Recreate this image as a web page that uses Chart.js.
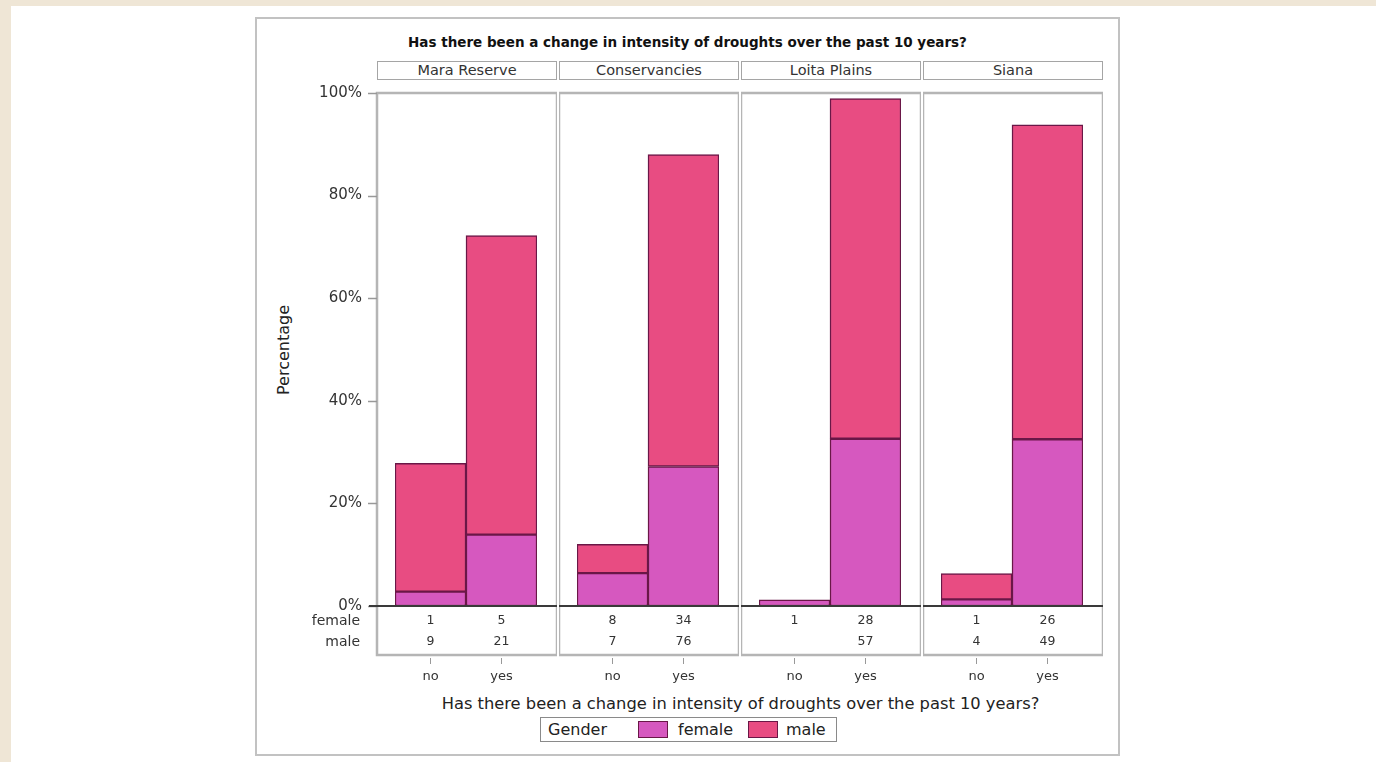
<!DOCTYPE html>
<html><head><meta charset="utf-8">
<script src="https://cdn.jsdelivr.net/npm/chart.js@4.4.0/dist/chart.umd.min.js"></script>
<style>
html,body{margin:0;padding:0;}
body{width:1376px;height:762px;background:#efe6d6;position:relative;overflow:hidden;font-family:"DejaVu Sans",sans-serif;color:#222;}
#page{position:absolute;left:11px;top:6px;right:0;bottom:0;background:#fff;}
#frame{position:absolute;left:255px;top:17px;width:865px;height:739px;border:2px solid #c2c2c2;box-sizing:border-box;}
#title{position:absolute;left:255px;width:865px;top:34px;text-align:center;font-weight:bold;font-size:13.5px;line-height:16px;color:#111;}
.strip{position:absolute;top:61px;width:180px;height:19px;border:1.5px solid #a5a5a5;box-sizing:border-box;text-align:center;font-size:14.5px;line-height:16px;color:#333;}
#ytitle{position:absolute;left:224px;top:340px;width:120px;height:20px;line-height:20px;text-align:center;font-size:16px;color:#222;transform:rotate(-90deg);}
#xtitle{position:absolute;left:377px;width:727px;top:694px;height:20px;line-height:20px;text-align:center;font-size:16.3px;color:#222;}
#legend{position:absolute;left:540px;top:717px;width:297px;height:25px;border:1px solid #8a8a8a;box-sizing:border-box;font-size:16px;color:#222;}
#legend span{position:absolute;top:0;line-height:23px;}
#legend i{position:absolute;top:3px;width:30px;height:17px;box-sizing:border-box;border:1px solid #6a1747;}
canvas{position:absolute;}
</style></head>
<body>
<div id="page"></div>
<div id="frame"></div>
<div id="title">Has there been a change in intensity of droughts over the past 10 years?</div>
<div id="ytitle">Percentage</div>
<div id="xtitle">Has there been a change in intensity of droughts over the past 10 years?</div>
<div id="legend"><span style="left:7px">Gender</span><i id="swF" style="left:97px"></i><span style="left:137px">female</span><i id="swM" style="left:207px"></i><span style="left:245px">male</span></div>
<script>
const panels = ['Mara Reserve', 'Conservancies', 'Loita Plains', 'Siana'];
const answers = ['no', 'yes'];
const femalePct = [[2.8, 13.9], [6.4, 27.2], [1.2, 32.6], [1.3, 32.5]];
const malePct = [[25.0, 58.3], [5.6, 60.8], [null, 66.3], [5.0, 61.3]];
const femaleCounts = [[1, 5], [8, 34], [1, 28], [1, 26]];
const maleCounts = [[9, 21], [7, 76], [null, 57], [4, 49]];
const yTicks = [0, 20, 40, 60, 80, 100];
const seriesNames = ['female', 'male'];

const femaleColor = '#d658bf', maleColor = '#e84c82', edgeColor = '#6a1747';
document.getElementById('swF').style.background = femaleColor;
document.getElementById('swM').style.background = maleColor;

const panelLeft0 = 377, panelStep = 182, panelW = 180, axisW = 87;
const padL = 18, padR = 20;               // gap between panel frame and bar area
const canvasTop = 43, canvasH = 652, padTop = 50, xAxisH = 89, tableH = 49;
const FONT = '"DejaVu Sans", sans-serif';

panels.forEach((name, p) => {
  const d = document.createElement('div');
  d.className = 'strip';
  d.style.left = (panelLeft0 + p * panelStep) + 'px';
  d.textContent = name;
  document.body.appendChild(d);
});

const panelPlugin = p => ({
  id: 'panel' + p,
  afterDraw(chart) {
    const { ctx, chartArea: a, scales: { x, y } } = chart;
    const fl = a.left - padL, fr = a.right + padR;
    ctx.save();
    ctx.strokeStyle = '#b5b5b5'; ctx.lineWidth = 2.5;
    ctx.strokeRect(fl, a.top, fr - fl, a.bottom + tableH - a.top);
    if (p === 0) {
      ctx.strokeStyle = '#999'; ctx.lineWidth = 1.5;
      yTicks.forEach(v => {
        const py = Math.round(y.getPixelForValue(v)) + 0.5;
        ctx.beginPath(); ctx.moveTo(fl - 9, py); ctx.lineTo(fl, py); ctx.stroke();
      });
    }
    ctx.strokeStyle = '#3a3a3a'; ctx.lineWidth = 2;
    ctx.beginPath(); ctx.moveTo(fl - (p === 0 ? 8 : 0), a.bottom); ctx.lineTo(fr, a.bottom); ctx.stroke();
    ctx.fillStyle = '#333'; ctx.font = '12.5px ' + FONT; ctx.textAlign = 'center'; ctx.textBaseline = 'middle';
    answers.forEach((ans, i) => {
      const cx = x.getPixelForValue(i);
      if (femaleCounts[p][i] != null) ctx.fillText(String(femaleCounts[p][i]), cx, a.bottom + 15);
      if (maleCounts[p][i] != null) ctx.fillText(String(maleCounts[p][i]), cx, a.bottom + 36);
      ctx.strokeStyle = '#999'; ctx.lineWidth = 1;
      ctx.beginPath(); ctx.moveTo(cx, a.bottom + tableH + 3); ctx.lineTo(cx, a.bottom + tableH + 9); ctx.stroke();
    });
    if (p === 0) {
      ctx.textAlign = 'right'; ctx.font = '14px ' + FONT;
      ctx.fillText(seriesNames[0], fl - 17, a.bottom + 15);
      ctx.fillText(seriesNames[1], fl - 17, a.bottom + 36);
    }
    ctx.restore();
  }
});

function makePanel(p) {
  const first = p === 0;
  const cv = document.createElement('canvas');
  const w = panelW + (first ? axisW : 0);
  cv.width = w; cv.height = canvasH;
  cv.style.left = (panelLeft0 + p * panelStep - (first ? axisW : 0)) + 'px';
  cv.style.top = canvasTop + 'px';
  cv.style.width = w + 'px'; cv.style.height = canvasH + 'px';
  document.body.appendChild(cv);
  new Chart(cv, {
    type: 'bar',
    data: {
      labels: answers,
      datasets: [
        { label: seriesNames[0], data: femalePct[p], backgroundColor: femaleColor, borderColor: edgeColor, borderWidth: 1.5, borderSkipped: false },
        { label: seriesNames[1], data: malePct[p], backgroundColor: maleColor, borderColor: edgeColor, borderWidth: 1.5, borderSkipped: false }
      ]
    },
    options: {
      responsive: false, animation: false, devicePixelRatio: 1,
      layout: { padding: { top: padTop, left: first ? 0 : padL, right: padR, bottom: 0 } },
      plugins: { legend: { display: false }, tooltip: { enabled: false } },
      datasets: { bar: { barPercentage: 1, categoryPercentage: 1 } },
      scales: {
        x: {
          stacked: true, offset: true,
          afterFit: s => { s.height = xAxisH; },
          grid: { display: false, drawTicks: true, tickLength: 60 }, border: { display: false },
          ticks: { autoSkip: false, maxRotation: 0, padding: 3, color: '#333', font: { family: FONT, size: 13 } }
        },
        y: {
          display: first, stacked: true, min: 0, max: 100,
          afterBuildTicks: s => { s.ticks = yTicks.map(v => ({ value: v })); },
          afterFit: s => { s.width = first ? axisW + padL : 0; },
          grid: { display: false, drawTicks: false },
          border: { display: false },
          ticks: { padding: 33, color: '#333', font: { family: FONT, size: 15 }, callback: v => v + '%' }
        }
      }
    },
    plugins: [panelPlugin(p)]
  });
}
panels.forEach((n, p) => makePanel(p));
</script>
</body></html>
